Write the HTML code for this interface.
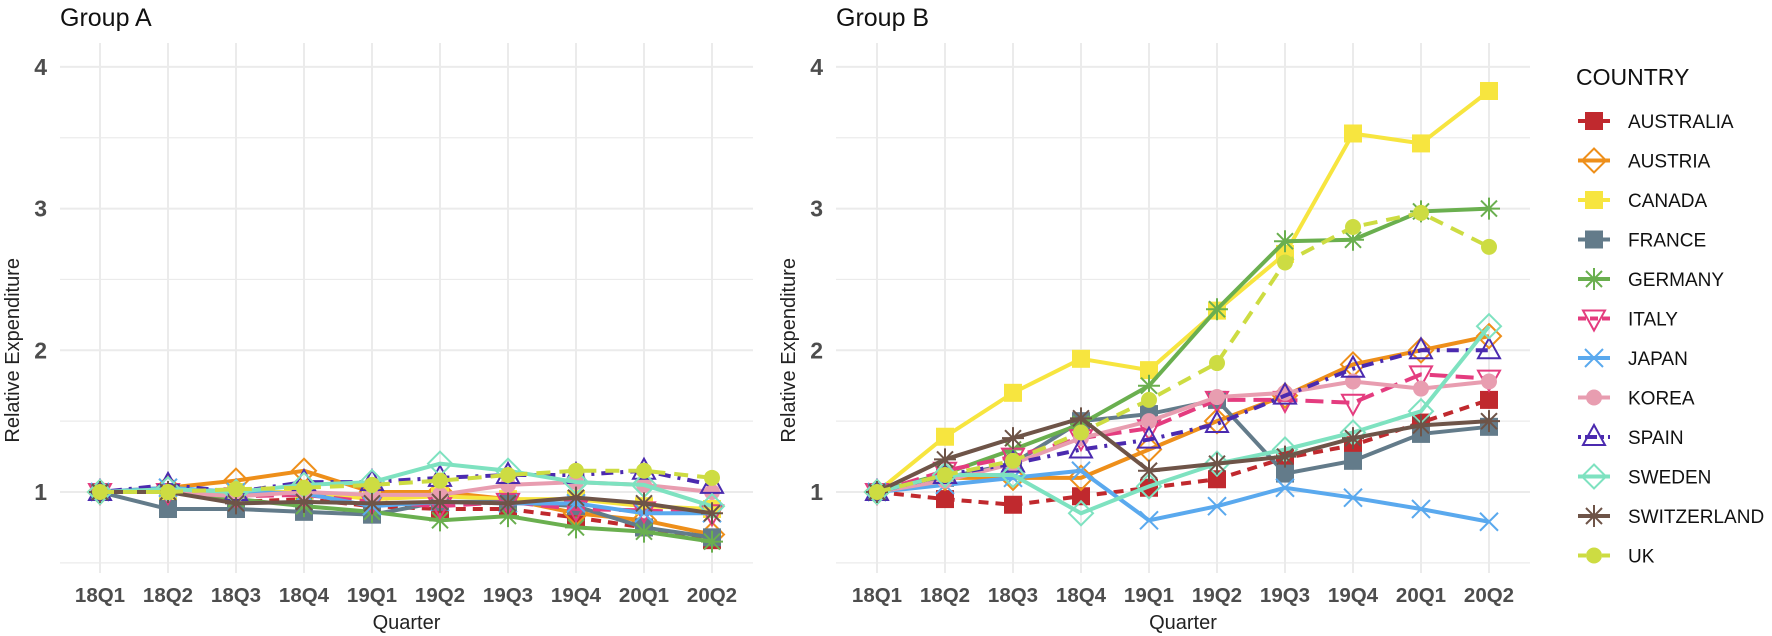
<!DOCTYPE html>
<html><head><meta charset="utf-8"><style>
html,body{margin:0;padding:0;background:#fff;}
svg{display:block;font-family:"Liberation Sans",Arial,sans-serif;}
</style></head><body>
<svg id="s" width="1772" height="636" viewBox="0 0 1772 636" xmlns="http://www.w3.org/2000/svg"></svg>
<script>
const S=document.getElementById('s');let h='';
const Y=v=>492-141.7*(v-1);
const series=[
['AUSTRALIA','#c0292e','10,7','sq',false,
 [1,1,0.93,0.95,0.9,0.88,0.88,0.82,0.75,0.66],[1,0.95,0.91,0.97,1.03,1.09,1.24,1.33,1.49,1.65]],
['AUSTRIA','#ee8f1a','','di',true,
 [1,1.03,1.08,1.15,1.0,1.0,0.95,0.85,0.8,0.7],[1,1.1,1.1,1.1,1.3,1.5,1.68,1.9,2.0,2.1]],
['CANADA','#f7e53f','','sq',false,
 [1,1.0,1.0,1.0,0.95,0.97,0.95,0.95,0.9,0.88],[1,1.39,1.70,1.94,1.86,2.28,2.68,3.53,3.46,3.83]],
['FRANCE','#637b8a','','sq',false,
 [1,0.88,0.88,0.86,0.84,0.93,0.93,0.9,0.75,0.68],[1,1.1,1.2,1.5,1.55,1.65,1.13,1.22,1.41,1.46]],
['GERMANY','#6aaf4f','','as',false,
 [1,1.0,0.95,0.9,0.86,0.8,0.83,0.75,0.72,0.65],[1,1.13,1.3,1.48,1.75,2.29,2.77,2.78,2.98,3.0]],
['ITALY','#e43c7f','18,8','tv',true,
 [1,1.0,0.97,0.98,0.93,0.9,0.93,0.88,0.87,0.85],[1,1.15,1.25,1.38,1.45,1.65,1.65,1.63,1.83,1.8]],
['JAPAN','#5aa9ee','','x',false,
 [1,1.03,1.0,0.99,0.9,0.93,0.92,0.92,0.85,0.85],[1,1.05,1.1,1.15,0.8,0.9,1.03,0.96,0.88,0.79]],
['KOREA','#e89db0','','ci',false,
 [1,1.0,0.97,1.0,0.98,0.98,1.05,1.07,1.05,1.0],[1,1.08,1.2,1.38,1.5,1.67,1.7,1.78,1.73,1.78]],
['SPAIN','#4b2aaf','3,7,12,7','tu',true,
 [1,1.05,1.0,1.07,1.07,1.1,1.12,1.12,1.15,1.05],[1,1.12,1.2,1.3,1.37,1.48,1.68,1.87,2.0,2.0]],
['SWEDEN','#7ee2c0','','di',true,
 [1,1.02,1.0,1.05,1.07,1.2,1.15,1.07,1.05,0.9],[1,1.12,1.12,0.85,1.04,1.2,1.3,1.42,1.57,2.17]],
['SWITZERLAND','#6e5448','','as',false,
 [1,1.0,0.92,0.93,0.92,0.93,0.92,0.96,0.92,0.85],[1,1.23,1.38,1.52,1.15,1.2,1.25,1.38,1.47,1.5]],
['UK','#cddc42','14,9','ci',false,
 [1,1.0,1.02,1.03,1.05,1.08,1.12,1.15,1.15,1.1],[1,1.12,1.22,1.42,1.65,1.91,2.62,2.87,2.97,2.73]]
];
function mk(t,c,x,y){
 switch(t){
 case 'sq':return `<rect x="${x-9}" y="${y-9}" width="18" height="18" fill="${c}"/>`;
 case 'di':return `<polygon points="${x},${y-12} ${x+12},${y} ${x},${y+12} ${x-12},${y}" fill="none" stroke="${c}" stroke-width="2"/>`;
 case 'tu':return `<polygon points="${x},${y-12} ${x+11},${y+8} ${x-11},${y+8}" fill="none" stroke="${c}" stroke-width="2"/>`;
 case 'tv':return `<polygon points="${x},${y+12} ${x+11},${y-8} ${x-11},${y-8}" fill="none" stroke="${c}" stroke-width="2"/>`;
 case 'ci':return `<circle cx="${x}" cy="${y}" r="8" fill="${c}"/>`;
 case 'x':return `<path d="M${x-9} ${y-9}L${x+9} ${y+9}M${x-9} ${y+9}L${x+9} ${y-9}" stroke="${c}" stroke-width="2"/>`;
 case 'as':return `<path d="M${x-11} ${y}H${x+11}M${x} ${y-11}V${y+11}M${x-8} ${y-8}L${x+8} ${y+8}M${x-8} ${y+8}L${x+8} ${y-8}" stroke="${c}" stroke-width="2"/>`;
 }
}
const Q=['18Q1','18Q2','18Q3','18Q4','19Q1','19Q2','19Q3','19Q4','20Q1','20Q2'];
function panel(L,R,x0,title,idx){
 const X=i=>x0+68*i;
 for(let v=0.5;v<=4.01;v+=0.5){const maj=Math.abs(v-Math.round(v))<0.01;
  h+=`<line x1="${L}" x2="${R}" y1="${Y(v)}" y2="${Y(v)}" stroke="#ebebeb" stroke-width="${maj?2:1.2}"/>`;}
 for(let i=0;i<10;i++)h+=`<line x1="${X(i)}" x2="${X(i)}" y1="43" y2="573" stroke="#ebebeb" stroke-width="2"/>`;
 for(let v=1;v<=4;v++)h+=`<text x="${L-13}" y="${Y(v)+8}" text-anchor="end" font-size="23" font-weight="bold" fill="#4d4d4d">${v}</text>`;
 for(let i=0;i<10;i++)h+=`<text x="${X(i)}" y="602" text-anchor="middle" font-size="20.5" font-weight="bold" fill="#4d4d4d">${Q[i]}</text>`;
 h+=`<text x="${(L+R)/2}" y="629" text-anchor="middle" font-size="20" fill="#222">Quarter</text>`;
 h+=`<text transform="translate(${L-41},${Y(2)}) rotate(-90)" text-anchor="middle" font-size="20" fill="#222">Relative Expenditure</text>`;
 h+=`<text x="${L}" y="26" font-size="25" fill="#111">${title}</text>`;
 for(const s of series){const d=s[idx];
  h+=`<polyline points="${d.map((v,i)=>X(i)+','+Y(v)).join(' ')}" fill="none" stroke="${s[1]}" stroke-width="4" ${s[2]?`stroke-dasharray="${s[2]}"`:''}/>`;
  for(let i=0;i<10;i++)h+=mk(s[3],s[1],X(i),Y(d[i]));}
}
panel(60,753,100,'Group A',5);
panel(836,1530,877,'Group B',6);
h+=`<text x="1576" y="85" font-size="23" fill="#111">COUNTRY</text>`;
series.forEach((s,i)=>{const y=121+39.5*i;
 h+=`<line x1="1578" x2="1610" y1="${y}" y2="${y}" stroke="${s[1]}" stroke-width="4" ${s[2]?`stroke-dasharray="${s[2]==='3,7,12,7'?'3,4,12,4':'8,4'}"`:''}/>`;
 h+=mk(s[3],s[1],1594,y);
 h+=`<text x="1628" y="${y+7}" font-size="19" fill="#111">${s[0]}</text>`;});
S.innerHTML=h;
</script>
</body></html>
